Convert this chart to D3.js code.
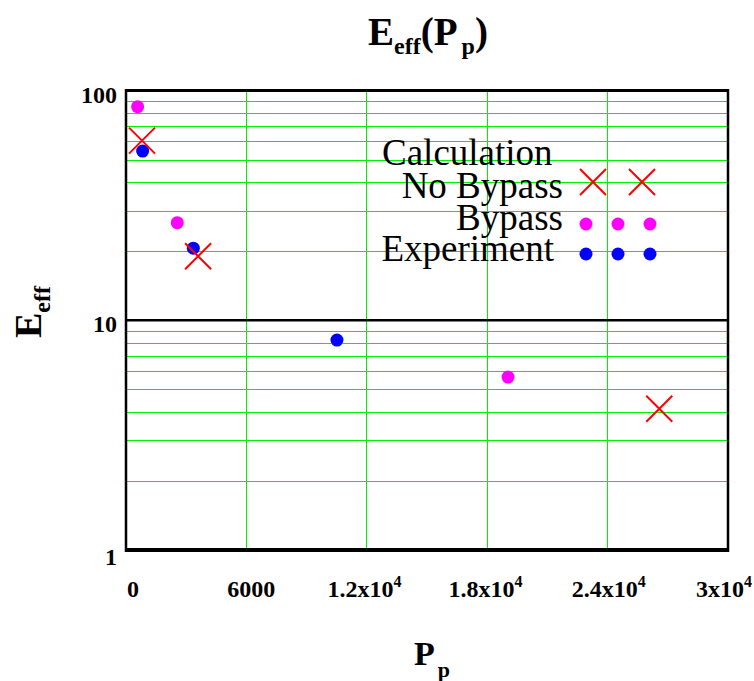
<!DOCTYPE html>
<html>
<head>
<meta charset="utf-8">
<script src="https://cdn.jsdelivr.net/npm/d3@7"></script>
<style>
  html, body { margin: 0; padding: 0; background: #fff; }
  svg { display: block; }
  text { font-family: "Liberation Serif", "Times New Roman", serif; }
</style>
</head>
<body>
<svg id="chart" width="754" height="681"></svg>
<script>
// ---- data ----
const xTicks = [0, 6000, 12000, 18000, 24000, 30000];
const xTickLabels = [["0", ""], ["6000", ""], ["1.2x10", "4"], ["1.8x10", "4"], ["2.4x10", "4"], ["3x10", "4"]];
const yTicks = [1, 10, 100];
const yTickLabels = ["1", "10", "100"];
const yGrid = [2, 3, 4, 5, 6, 7, 8, 9, 20, 30, 40, 50, 60, 70, 80, 90];

const noBypassX = [800, 3600, 26620];
const noBypassY = [60.5, 19.0, 4.12];
const bypassX = [580, 2560, 19070];
const bypassY = [85, 26.6, 5.66];
const experimentX = [830, 3360, 10530];
const experimentY = [54.5, 20.6, 8.2];

// ---- layout ----
const pL = 126, pR = 727, pT = 90.5, pB = 550;
const svg = d3.select("#chart");

const x = d3.scaleLinear().domain([0, 30000]).range([pL, pR]);
const y = d3.scaleLog().domain([1, 100]).range([pB, pT]);

const green = "#00ee00";

// grid
const g = svg.append("g").attr("shape-rendering", "crispEdges");
g.selectAll("line.hg").data(yGrid).join("line")
  .attr("x1", pL).attr("x2", pR)
  .attr("y1", d => Math.round(y(d)) + 0.5).attr("y2", d => Math.round(y(d)) + 0.5)
  .attr("stroke", green).attr("stroke-width", 1);
g.selectAll("line.vg").data(xTicks.slice(1)).join("line")
  .attr("x1", d => Math.round(x(d)) + 0.5).attr("x2", d => Math.round(x(d)) + 0.5)
  .attr("y1", pT).attr("y2", pB)
  .attr("stroke", green).attr("stroke-width", 1);

// decade line at 10
svg.append("line")
  .attr("x1", pL).attr("x2", pR)
  .attr("y1", y(10)).attr("y2", y(10))
  .attr("stroke", "#000").attr("stroke-width", 2.5);

// frame
svg.append("line").attr("x1", pL).attr("x2", pR + 1.5).attr("y1", pT).attr("y2", pT)
  .attr("stroke", "#000").attr("stroke-width", 3);
svg.append("line").attr("x1", pL).attr("x2", pL).attr("y1", pT - 1.5).attr("y2", pB + 2)
  .attr("stroke", "#000").attr("stroke-width", 2.5);
svg.append("line").attr("x1", pR + 1).attr("x2", pR + 1).attr("y1", pT - 1.5).attr("y2", pB + 2)
  .attr("stroke", "#000").attr("stroke-width", 2.5);
svg.append("line").attr("x1", pL - 1).attr("x2", pR + 2).attr("y1", pB).attr("y2", pB)
  .attr("stroke", "#000").attr("stroke-width", 4);

// y tick labels
svg.selectAll("text.yt").data(yTicks).join("text")
  .attr("x", pL - 9).attr("y", d => y(d) + (d === 1 ? 15 : 12))
  .attr("text-anchor", "end").attr("font-size", 24).attr("font-weight", "bold")
  .text((d, i) => yTickLabels[i]);

// x tick labels
const xOff = [7, 5, -2, -1, 2, -3];
const xt = svg.selectAll("text.xt").data(xTicks).join("text")
  .attr("x", (d, i) => x(d) + xOff[i]).attr("y", 597)
  .attr("text-anchor", "middle").attr("font-size", 24).attr("font-weight", "bold");
xt.append("tspan").text((d, i) => xTickLabels[i][0]);
xt.append("tspan").attr("font-size", 16).attr("dy", -10).text((d, i) => xTickLabels[i][1]);

// title
const title = svg.append("text").attr("x", 428).attr("y", 45)
  .attr("text-anchor", "middle").attr("font-weight", "bold").attr("font-size", 39);
title.append("tspan").text("E");
title.append("tspan").attr("font-size", 24).attr("dy", 9).text("eff");
title.append("tspan").attr("dy", -9).text("(P");
title.append("tspan").attr("font-size", 24).attr("dy", 9).attr("dx", 4).text("p");
title.append("tspan").attr("dy", -9).text(")");

// y-axis title
const yt = svg.append("text").attr("transform", "translate(41,312) rotate(-90)")
  .attr("text-anchor", "middle").attr("font-weight", "bold").attr("font-size", 38);
yt.append("tspan").text("E");
yt.append("tspan").attr("font-size", 24).attr("dy", 9).text("eff");

// x-axis title
const xtt = svg.append("text").attr("x", 432).attr("y", 665)
  .attr("text-anchor", "middle").attr("font-weight", "bold").attr("font-size", 34);
xtt.append("tspan").text("P");
xtt.append("tspan").attr("font-size", 22).attr("dy", 12).attr("dx", 3).text("p");

// markers
function cross(sel, cx, cy, r) {
  sel.append("path")
    .attr("d", `M${cx - r},${cy - r}L${cx + r},${cy + r}M${cx - r},${cy + r}L${cx + r},${cy - r}`)
    .attr("stroke", "#ff0000").attr("stroke-width", 2).attr("fill", "none");
}
const marks = svg.append("g");
bypassX.forEach((v, i) => marks.append("circle").attr("cx", x(v)).attr("cy", y(bypassY[i])).attr("r", 6.5).attr("fill", "#ff00ff"));
experimentX.forEach((v, i) => marks.append("circle").attr("cx", x(v)).attr("cy", y(experimentY[i])).attr("r", 6.5).attr("fill", "#0000ff"));
noBypassX.forEach((v, i) => cross(marks, x(v), y(noBypassY[i]), 13));

// legend
const leg = svg.append("g").attr("font-size", 37);
leg.append("text").attr("x", 382).attr("y", 165).text("Calculation");
leg.append("text").attr("x", 563).attr("y", 198).attr("text-anchor", "end").text("No Bypass");
leg.append("text").attr("x", 563).attr("y", 230).attr("text-anchor", "end").text("Bypass");
leg.append("text").attr("x", 554).attr("y", 261).attr("text-anchor", "end").text("Experiment");
[593, 642].forEach(cx => cross(leg, cx, 182, 13));
[586, 618, 650].forEach(cx => leg.append("circle").attr("cx", cx).attr("cy", 224).attr("r", 6.5).attr("fill", "#ff00ff"));
[586, 618, 650].forEach(cx => leg.append("circle").attr("cx", cx).attr("cy", 254).attr("r", 6.5).attr("fill", "#0000ff"));
</script>
</body>
</html>
